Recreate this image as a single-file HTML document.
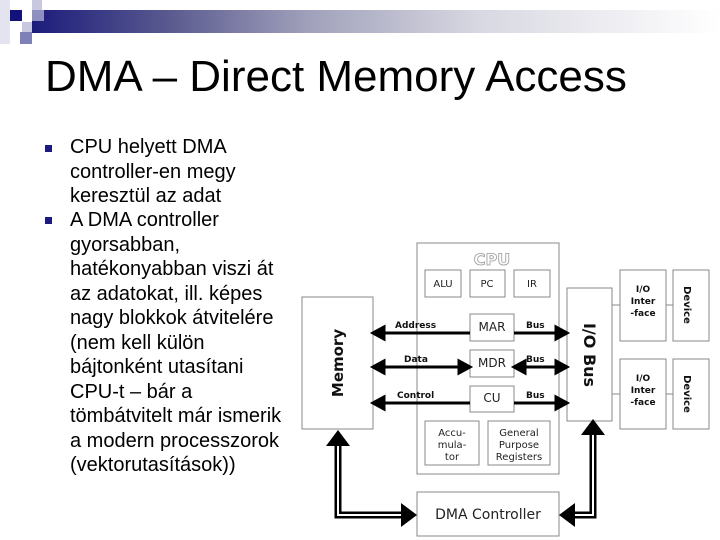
<!DOCTYPE html>
<html><head><meta charset="utf-8"><style>
body{margin:0;width:720px;height:540px;background:#fff;position:relative;overflow:hidden;font-family:"Liberation Sans",sans-serif}
.t{position:absolute;left:45px;top:52px;font-size:44px;color:#000;white-space:nowrap}
.b{position:absolute;left:70px;font-size:20px;line-height:24.5px;color:#000;width:218px}
.sq{position:absolute;left:45px;width:7px;height:7px;background:#1a1a80}
</style></head><body>
<div style="position:absolute;left:32px;top:10px;width:688px;height:23px;background:linear-gradient(to right,#1c1c7c,#5a5a90 20%,#a0a0bb 40%,#d8d8e2 65%,#fff)"></div>
<div style="position:absolute;left:0;top:0;width:10px;height:44px;background:#e4e4f0"></div>
<div style="position:absolute;left:10px;top:10px;width:12px;height:11px;background:#12127a"></div>
<div style="position:absolute;left:22px;top:22px;width:10px;height:10px;background:#c8c8e0"></div>
<div style="position:absolute;left:32px;top:0;width:10px;height:10px;background:#c8c8e0"></div>
<div style="position:absolute;left:32px;top:10px;width:12px;height:11px;background:#9090c0"></div>
<div style="position:absolute;left:20px;top:32px;width:12px;height:12px;background:#8080b8"></div>
<div class="t">DMA – Direct Memory Access</div>
<div class="sq" style="top:145px"></div>
<div class="b" style="top:135px">CPU helyett DMA controller-en megy keresztül az adat</div>
<div class="sq" style="top:217px"></div>
<div class="b" style="top:208px">A DMA controller gyorsabban, hatékonyabban viszi át az adatokat, ill. képes nagy blokkok átvitelére (nem kell külön bájtonként utasítani CPU-t – bár a tömbátvitelt már ismerik a modern processzorok (vektorutasítások))</div>
<svg style="position:absolute;left:0;top:0" width="720" height="540" font-family="DejaVu Sans,sans-serif">
<g fill="#fff" stroke="#888" stroke-width="1">
<rect x="417" y="243" width="142" height="231"/>
<rect x="302" y="297" width="71" height="132"/>
<rect x="567" y="288" width="45" height="133"/>
<rect x="620" y="270" width="46" height="71"/>
<rect x="673" y="270" width="36" height="71"/>
<rect x="620" y="359" width="46" height="70"/>
<rect x="673" y="359" width="36" height="70"/>
<rect x="417" y="492" width="142" height="44"/>
<rect x="425" y="270" width="36" height="27"/>
<rect x="470" y="270" width="35" height="27"/>
<rect x="514" y="270" width="36" height="27"/>
<rect x="470" y="314" width="44" height="27"/>
<rect x="470" y="350" width="44" height="27"/>
<rect x="470" y="386" width="44" height="26"/>
<rect x="425" y="421" width="54" height="44"/>
<rect x="488" y="421" width="62" height="44"/>
</g>
<g stroke="#888"><line x1="612" y1="305" x2="620" y2="305"/><line x1="666" y1="305" x2="673" y2="305"/><line x1="612" y1="394" x2="620" y2="394"/><line x1="666" y1="394" x2="673" y2="394"/></g>
<g stroke="#000" stroke-width="3" fill="#000">
<line x1="380" y1="333" x2="470" y2="333"/><polygon points="373,333 384,327 384,339"/>
<line x1="514" y1="333" x2="560" y2="333"/><polygon points="567,333 556,327 556,339"/>
<line x1="380" y1="367" x2="463" y2="367"/><polygon points="373,367 384,361 384,373"/><polygon points="470,367 459,361 459,373"/>
<line x1="521" y1="367" x2="560" y2="367"/><polygon points="514,367 525,361 525,373"/><polygon points="567,367 556,361 556,373"/>
<line x1="380" y1="403" x2="470" y2="403"/><polygon points="373,403 384,397 384,409"/>
<line x1="514" y1="403" x2="560" y2="403"/><polygon points="567,403 556,397 556,409"/>
</g>
<g fill="none" stroke="#000" stroke-width="7"><path d="M338,440 V515 H405"/><path d="M593,428 V515 H570"/></g>
<g fill="none" stroke="#fff" stroke-width="2"><path d="M338,440 V515 H405"/><path d="M593,428 V515 H570"/></g>
<g fill="#000"><polygon points="338,430 326,446 350,446"/><polygon points="417,515 401,503 401,527"/><polygon points="593,419 581,435 605,435"/><polygon points="559,515 575,503 575,527"/></g>
<g font-size="10" text-anchor="middle" fill="#222">
<text x="443" y="287">ALU</text><text x="487" y="287">PC</text><text x="532" y="287">IR</text>
<text x="492" y="331" font-size="12">MAR</text><text x="492" y="367" font-size="12">MDR</text><text x="492" y="402" font-size="12">CU</text>
<text x="452" y="436">Accu-</text><text x="452" y="448">mula-</text><text x="452" y="460">tor</text>
<text x="519" y="436">General</text><text x="519" y="448">Purpose</text><text x="519" y="460">Registers</text>
<text x="488" y="519" font-size="14">DMA Controller</text>
<text x="492" y="265" font-size="16" font-weight="bold" fill="#fff" stroke="#999" stroke-width="0.8">CPU</text>
</g>
<g font-size="9" font-weight="bold" fill="#111">
<text x="395" y="328">Address</text><text x="404" y="362">Data</text><text x="397" y="398">Control</text>
<text x="526" y="328">Bus</text><text x="526" y="362">Bus</text><text x="526" y="398">Bus</text>
<g text-anchor="middle"><text x="643" y="292">I/O</text><text x="643" y="304">Inter</text><text x="643" y="316">-face</text>
<text x="643" y="381">I/O</text><text x="643" y="393">Inter</text><text x="643" y="405">-face</text></g>
</g>
<g font-weight="bold" fill="#111" text-anchor="middle">
<text transform="translate(343,363) rotate(-90)" font-size="15">Memory</text>
<text transform="translate(584,355) rotate(90)" font-size="16">I/O Bus</text>
<text transform="translate(684,305) rotate(90)" font-size="10">Device</text>
<text transform="translate(684,394) rotate(90)" font-size="10">Device</text>
</g>
</svg>
</body></html>
